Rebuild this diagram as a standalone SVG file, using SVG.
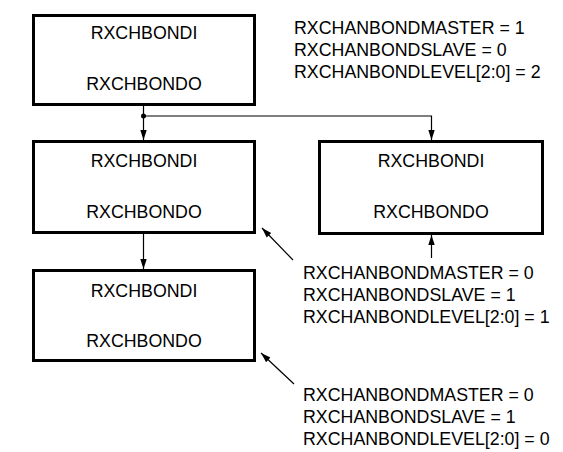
<svg xmlns="http://www.w3.org/2000/svg" width="563" height="452" viewBox="0 0 563 452">
<defs>
<marker id="ah" viewBox="0 0 10 10" refX="10" refY="5" markerWidth="10" markerHeight="10" markerUnits="userSpaceOnUse" orient="auto">
<path d="M0,1.8 L10,5 L0,8.2 Z" fill="#000"/>
</marker>
<style>
.box{fill:#fff;stroke:#000;stroke-width:3}
.bt{font-family:"Liberation Sans",Arial,sans-serif;font-size:17.8px;text-anchor:middle;fill:#000}
.lt{font-family:"Liberation Sans",Arial,sans-serif;font-size:17.8px;fill:#000}
.c{stroke:#000;stroke-width:1.2;fill:none}
</style>
</defs>
<rect width="563" height="452" fill="#fff"/>
<g id="master">
<rect class="box" x="33.5" y="15.5" width="221" height="89"/>
<text class="bt" x="144" y="39">RXCHBONDI</text>
<text class="bt" x="144" y="90">RXCHBONDO</text>
</g>
<g id="slave1">
<rect class="box" x="33.5" y="141.5" width="221" height="91"/>
<text class="bt" x="144" y="167">RXCHBONDI</text>
<text class="bt" x="144" y="218">RXCHBONDO</text>
</g>
<g id="slave2">
<rect class="box" x="33.5" y="270.5" width="221" height="90"/>
<text class="bt" x="144" y="297">RXCHBONDI</text>
<text class="bt" x="144" y="347">RXCHBONDO</text>
</g>
<g id="slave3">
<rect class="box" x="319.5" y="141.5" width="223" height="92"/>
<text class="bt" x="431" y="167">RXCHBONDI</text>
<text class="bt" x="431" y="218">RXCHBONDO</text>
</g>
<g id="connectors">
<line class="c" x1="143.5" y1="106" x2="143.5" y2="140" marker-end="url(#ah)"/>
<polyline class="c" points="143.5,116 431.5,116 431.5,140" marker-end="url(#ah)"/>
<circle cx="143.5" cy="116" r="2.5" fill="#000"/>
<line class="c" x1="143.5" y1="234" x2="143.5" y2="269" marker-end="url(#ah)"/>
<line class="c" x1="431.5" y1="258" x2="431.5" y2="235" marker-end="url(#ah)"/>
<line class="c" x1="293" y1="260" x2="262" y2="228" marker-end="url(#ah)"/>
<line class="c" x1="294" y1="384" x2="261" y2="353" marker-end="url(#ah)"/>
</g>
<g id="label-master">
<text class="lt" x="294" y="34">RXCHANBONDMASTER = 1</text>
<text class="lt" x="294" y="56">RXCHANBONDSLAVE = 0</text>
<text class="lt" x="294" y="78">RXCHANBONDLEVEL[2:0] = 2</text>
</g>
<g id="label-slave1">
<text class="lt" x="303" y="279">RXCHANBONDMASTER = 0</text>
<text class="lt" x="303" y="301">RXCHANBONDSLAVE = 1</text>
<text class="lt" x="303" y="323">RXCHANBONDLEVEL[2:0] = 1</text>
</g>
<g id="label-slave2">
<text class="lt" x="303" y="401">RXCHANBONDMASTER = 0</text>
<text class="lt" x="303" y="423">RXCHANBONDSLAVE = 1</text>
<text class="lt" x="303" y="445">RXCHANBONDLEVEL[2:0] = 0</text>
</g>
</svg>
